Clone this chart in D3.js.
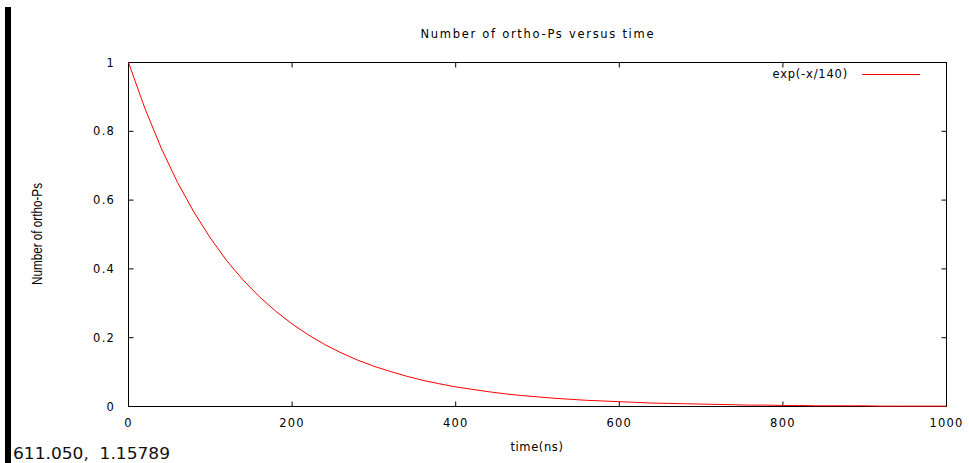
<!DOCTYPE html>
<html><head><meta charset="utf-8">
<script src="https://cdn.jsdelivr.net/npm/d3@7"></script>
<style>body{margin:0;background:#fff;}svg{display:block;}</style>
</head><body><svg id="c" width="969" height="463"></svg>
<script>
const title = "Number of ortho-Ps versus time";
const xLabel = "time(ns)";
const yLabel = "Number of ortho-Ps";
const legendLabel = "exp(-x/140)";
const statusText = "611.050,  1.15789";
const xTicks = [0, 200, 400, 600, 800, 1000];
const yTicks = [0, 0.2, 0.4, 0.6, 0.8, 1];
const yTickLabels = ["0", "0.2", "0.4", "0.6", "0.8", "1"];
const times = [0,20,40,60,80,100,120,140,160,180,200,220,240,260,280,300,320,340,360,380,400,420,440,460,480,500,520,540,560,580,600,620,640,660,680,700,720,740,760,780,800,820,840,860,880,900,920,940,960,980,1000];
const counts = [1,0.867,0.751,0.651,0.565,0.490,0.424,0.368,0.319,0.277,0.240,0.208,0.180,0.156,0.135,0.117,0.102,0.088,0.076,0.066,0.057,0.050,0.043,0.037,0.032,0.028,0.024,0.021,0.018,0.016,0.014,0.012,0.010,0.009,0.008,0.007,0.006,0.005,0.004,0.004,0.003,0.003,0.002,0.002,0.002,0.002,0.001,0.001,0.001,0.001,0.001];

const svg = d3.select("#c");
const L = 128.5, R = 946.5, T = 62.5, B = 406.5;
const x = d3.scaleLinear().domain([0, 1000]).range([L, R]);
const y = d3.scaleLinear().domain([0, 1]).range([B, T]);
const font = "'DejaVu Sans', sans-serif";

// left black bar
svg.append("rect").attr("x", 5).attr("y", 7).attr("width", 6).attr("height", 456).attr("fill", "#000");

// ticks (inward, all four sides)
const tl = 5;
xTicks.forEach(v => {
  svg.append("line").attr("x1", x(v)).attr("x2", x(v)).attr("y1", B).attr("y2", B - tl).attr("stroke", "#000");
  svg.append("line").attr("x1", x(v)).attr("x2", x(v)).attr("y1", T).attr("y2", T + tl).attr("stroke", "#000");
  svg.append("text").attr("x", x(v)).attr("y", 427).attr("text-anchor", "middle")
    .attr("font-family", font).attr("font-size", 11.5).attr("letter-spacing", 1.2).text(v);
});
yTicks.forEach((v, i) => {
  svg.append("line").attr("x1", L).attr("x2", L + tl).attr("y1", y(v)).attr("y2", y(v)).attr("stroke", "#000");
  svg.append("line").attr("x1", R).attr("x2", R - tl).attr("y1", y(v)).attr("y2", y(v)).attr("stroke", "#000");
  svg.append("text").attr("x", 115).attr("y", y(v) + 4).attr("text-anchor", "end")
    .attr("font-family", font).attr("font-size", 11.5).attr("letter-spacing", 1.2).text(yTickLabels[i]);
});

// frame
svg.append("rect").attr("x", L).attr("y", T).attr("width", R - L).attr("height", B - T)
  .attr("fill", "none").attr("stroke", "#000");

// curve
const line = d3.line().x((d, i) => x(times[i])).y(d => y(d));
svg.append("path").datum(counts).attr("d", line).attr("fill", "none").attr("stroke", "#ff0000").attr("stroke-width", 1);

// legend
svg.append("text").attr("x", 848).attr("y", 78).attr("text-anchor", "end")
  .attr("font-family", font).attr("font-size", 11.5).attr("letter-spacing", 0.8).text(legendLabel);
svg.append("line").attr("x1", 862).attr("x2", 920).attr("y1", 74.5).attr("y2", 74.5).attr("stroke", "#ff0000");

// title
svg.append("text").attr("x", 537).attr("y", 38).attr("text-anchor", "middle")
  .attr("font-family", font).attr("font-size", 11.5).attr("textLength", 233).attr("lengthAdjust", "spacing").text(title);

// x label
svg.append("text").attr("x", 537).attr("y", 451).attr("text-anchor", "middle")
  .attr("font-family", font).attr("font-size", 11.5).attr("letter-spacing", 0.6).text(xLabel);

// y label
svg.append("text").attr("transform", "translate(42,234) rotate(-90)").attr("text-anchor", "middle")
  .attr("font-family", "'Liberation Sans Narrow', 'Liberation Sans', sans-serif").attr("font-size", 14)
  .attr("textLength", 102).attr("lengthAdjust", "spacingAndGlyphs").text(yLabel);

// status text
svg.append("text").attr("x", 13).attr("y", 459)
  .attr("font-family", font).attr("font-size", 15).attr("fill", "#111").attr("xml:space", "preserve")
  .attr("textLength", 157).attr("lengthAdjust", "spacingAndGlyphs")
  .style("white-space", "pre").text(statusText);
</script>
</body></html>
